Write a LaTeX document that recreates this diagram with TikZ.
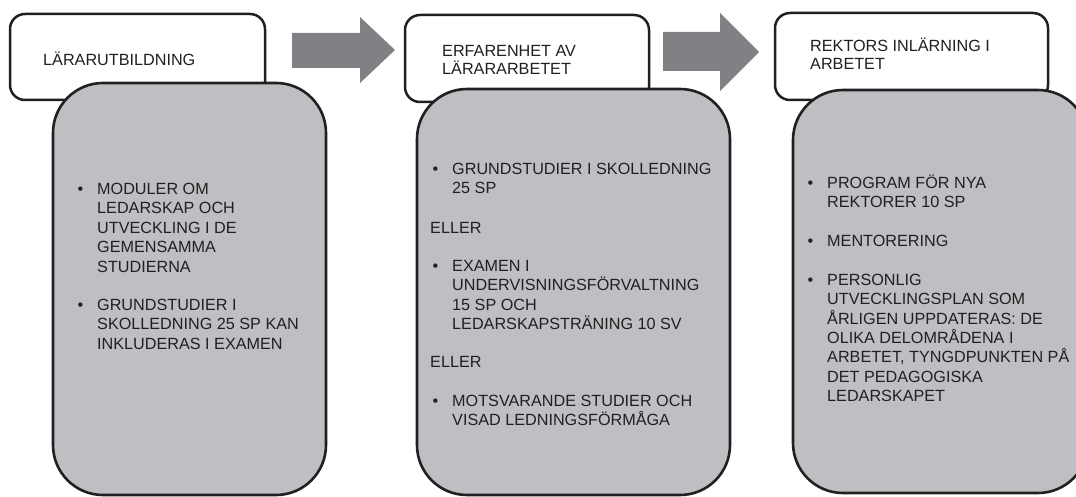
\documentclass[tikz,border=0pt]{standalone}
\usepackage{fontspec}
\setmainfont{Liberation Sans}
\definecolor{boxgray}{RGB}{190,191,195}
\definecolor{arrowgray}{RGB}{128,129,133}
\definecolor{ink}{RGB}{35,31,32}
\newcommand\myhstr{\rule{0pt}{16pt}}
\newcommand\mybul{\rule{0pt}{16pt}\llap{\textbullet\hspace{14pt}}}
\begin{document}
\begin{tikzpicture}[x=1pt,y=-1pt,
  hdrbox/.style={draw=ink, line width=2.5pt, fill=white, rounded corners=15pt},
  graybox/.style={draw=ink, line width=2.6pt, fill=boxgray, rounded corners=50pt},
  blockarrow/.style={fill=arrowgray, draw=none},
  hdrtext/.style={anchor=north west, inner sep=0pt, align=left, text=ink,
    font=\fontsize{16.2}{17.8}\selectfont},
  bodytext/.style={anchor=north west, inner sep=0pt, align=left, text=ink,
    font=\fontsize{16.2}{19.4}\selectfont}
]
\useasboundingbox (0,0) rectangle (1076,497);
\fill[white] (0,0) rectangle (1076,497);

% arrows
\fill[blockarrow] (292,33) -- (360,33) -- (360,17) -- (395,50) -- (360,83) -- (360,68) -- (292,68) -- cycle;
\fill[blockarrow] (663,32) -- (720,32) -- (720,13) -- (759,52) -- (720,91) -- (720,71) -- (663,71) -- cycle;

% column 1
\draw[hdrbox] (10,14) rectangle (265,100);
\draw[graybox] (53,83) rectangle (326,495);
\node[hdrtext] (h1) at (43,49.3) {\myhstr LÄRARUTBILDNING};
\node[bodytext] (g1a) at (97,178.3) {\mybul MODULER OM\\LEDARSKAP OCH\\UTVECKLING I DE\\GEMENSAMMA\\STUDIERNA};
\node[bodytext] (g1b) at (97,294) {\mybul GRUNDSTUDIER I\\SKOLLEDNING 25 SP KAN\\INKLUDERAS I EXAMEN};

% column 2
\draw[hdrbox] (405,15) rectangle (649,102);
\draw[graybox] (417,89) rectangle (730,495);
\node[hdrtext] (h2) at (442,40.5) {\myhstr ERFARENHET AV\\LÄRARARBETET};
\node[bodytext] (g2a) at (452,158) {\mybul GRUNDSTUDIER I SKOLLEDNING\\25 SP};
\node[bodytext] (g2b) at (430,217.3) {\myhstr ELLER};
\node[bodytext] (g2c) at (452,255) {\mybul EXAMEN I\\UNDERVISNINGSFÖRVALTNING\\15 SP OCH\\LEDARSKAPSTRÄNING 10 SV};
\node[bodytext] (g2d) at (430,351) {\myhstr ELLER};
\node[bodytext] (g2e) at (452,390) {\mybul MOTSVARANDE STUDIER OCH\\VISAD LEDNINGSFÖRMÅGA};

% column 3
\draw[hdrbox] (775,13) rectangle (1048,100);
\draw[graybox] (793,90) rectangle (1088,493);
\node[hdrtext] (h3) at (810,35.7) {\myhstr REKTORS INLÄRNING I\\ARBETET};
\node[bodytext] (g3a) at (827,172.3) {\mybul PROGRAM FÖR NYA\\REKTORER 10 SP};
\node[bodytext] (g3b) at (827,230.3) {\mybul MENTORERING};
\node[bodytext] (g3c) at (827,269) {\mybul PERSONLIG\\UTVECKLINGSPLAN SOM\\ÅRLIGEN UPPDATERAS: DE\\OLIKA DELOMRÅDENA I\\ARBETET, TYNGDPUNKTEN PÅ\\DET PEDAGOGISKA\\LEDARSKAPET};
\end{tikzpicture}
\end{document}
